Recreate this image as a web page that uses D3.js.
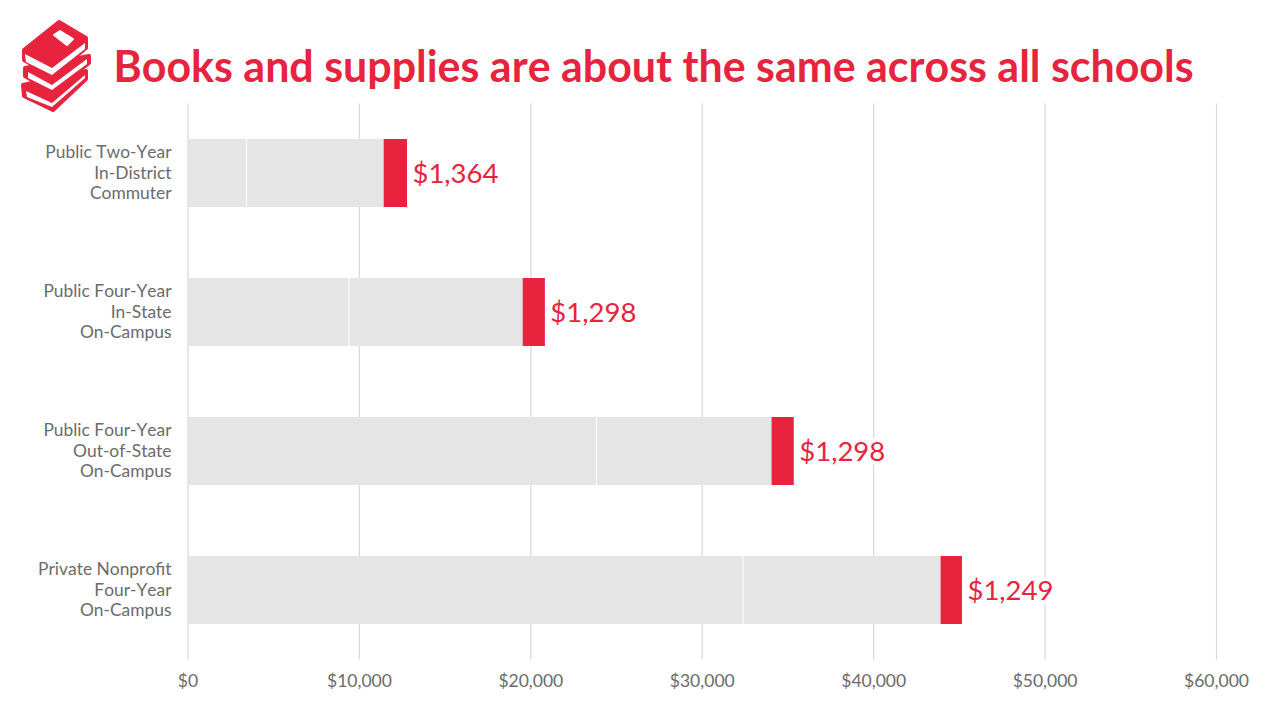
<!DOCTYPE html>
<html>
<head>
<meta charset="utf-8">
<script src="https://cdn.jsdelivr.net/npm/d3@7"></script>
<style>
  html, body { margin: 0; padding: 0; background: #fff; }
  svg { display: block; font-family: Lato, "Open Sans", sans-serif; font-kerning: none; }
</style>
</head>
<body>
<div id="chart-area"></div>
<script>
// values
var categories = [
    ["Public Two-Year", "In-District", "Commuter"],
    ["Public Four-Year", "In-State", "On-Campus"],
    ["Public Four-Year", "Out-of-State", "On-Campus"],
    ["Private Nonprofit", "Four-Year", "On-Campus"]
];
var tuition = [3440, 9420, 23860, 32410];
var otherCosts = [8000, 10130, 10210, 11520];
var books = [1364, 1298, 1298, 1249];
var xTicks = [0, 10000, 20000, 30000, 40000, 50000, 60000];

var titleText = "Books and supplies are about the same across all schools";
var red = "#e7233e";
var gray = "#e6e5e5";

var svg = d3.select("#chart-area").append("svg")
    .attr("width", 1280)
    .attr("height", 720);

var x = d3.scaleLinear().domain([0, 60000]).range([187.5, 1216]);
var y = d3.scaleBand().domain(d3.range(categories.length))
    .range([103.5, 659.5])
    .paddingInner(0.511)
    .paddingOuter(0.2555);

// icon, three stacked books
var icon = svg.append("g").attr("stroke-linejoin", "round");
var bookShapes = [
    { outer: "M23,85 L24,96 L53,110 L86,79 L86,71 Z", pages: "M26,91 L52,103 L85,75 L85,78 L52,107 L27,97 Z" },
    { outer: "M25,68 L25,76 L52,92 L89,63 L89,56 Z", pages: "M28,72 L52,85 L87,59 L87,64 L52,90 L28,78 Z" }
];
bookShapes.forEach(function(b) {
    icon.append("path").attr("d", b.outer).attr("fill", red).attr("stroke", red).attr("stroke-width", 4);
    icon.append("path").attr("d", b.pages).attr("fill", "#fff");
});
icon.append("path")
    .attr("d", "M59,22 L86,38 L86,48 L52,76 L24,60 L24,50 Z")
    .attr("fill", red).attr("stroke", red).attr("stroke-width", 4);
icon.append("path").attr("d", "M25,54 L52,68 L85,43 L85,49 L52,75 L26,62 Z").attr("fill", "#fff");
icon.append("path")
    .attr("d", "M54,35 L60,31 L73,39 L67,45 Z")
    .attr("fill", "#fff").attr("stroke", "#fff").attr("stroke-width", 2);

svg.append("text")
    .attr("x", 113.5)
    .attr("y", 82)
    .attr("font-size", 42.95)
    .attr("font-weight", 700)
    .attr("fill", red)
    .text(titleText);

// gridlines and x axis
var xAxis = d3.axisBottom(x)
    .tickValues(xTicks)
    .tickFormat(function(d) { return "$" + d3.format(",")(d); })
    .tickSize(-556)
    .tickPadding(15);

var axisG = svg.append("g")
    .attr("transform", "translate(0,659.5)")
    .call(xAxis);
axisG.select(".domain").remove();
axisG.selectAll(".tick line").attr("stroke", "#d9d9d9").attr("stroke-width", 1.2);
axisG.selectAll(".tick text")
    .attr("fill", "#6b6b6b")
    .attr("font-size", 17.5)
    .attr("font-family", "Lato");

// bars
var rows = svg.selectAll(".row")
    .data(categories)
    .enter().append("g")
    .attr("class", "row");

rows.append("rect")
    .attr("x", x(0))
    .attr("y", function(d, i) { return y(i); })
    .attr("width", function(d, i) { return x(tuition[i]) - x(0) - 0.5; })
    .attr("height", y.bandwidth())
    .attr("fill", gray);

rows.append("rect")
    .attr("x", function(d, i) { return x(tuition[i]) + 0.5; })
    .attr("y", function(d, i) { return y(i); })
    .attr("width", function(d, i) { return x(tuition[i] + otherCosts[i]) - x(tuition[i]) - 1; })
    .attr("height", y.bandwidth())
    .attr("fill", gray);

rows.append("rect")
    .attr("x", function(d, i) { return x(tuition[i] + otherCosts[i]); })
    .attr("y", function(d, i) { return y(i); })
    .attr("width", function(d, i) { return x(books[i]) - x(0); })
    .attr("height", y.bandwidth())
    .attr("fill", red);

// value labels, white halo cuts the gridlines
rows.append("text")
    .attr("x", function(d, i) { return x(tuition[i] + otherCosts[i] + books[i]) + 5.5; })
    .attr("y", function(d, i) { return y(i) + y.bandwidth() / 2 + 10; })
    .attr("font-size", 27.5)
    .attr("fill", red)
    .attr("stroke", "#fff")
    .attr("stroke-width", 8)
    .attr("paint-order", "stroke")
    .text(function(d, i) { return "$" + d3.format(",")(books[i]); });

// category labels
rows.each(function(d, i) {
    var g = d3.select(this);
    d.forEach(function(line, j) {
        g.append("text")
            .attr("x", 171.5)
            .attr("y", y(i) + y.bandwidth() / 2 + (j - 1) * 20.6 + 5.7)
            .attr("text-anchor", "end")
            .attr("font-size", 17.4)
            .attr("fill", "#6b6b6b")
            .text(line);
    });
});
</script>
</body>
</html>
